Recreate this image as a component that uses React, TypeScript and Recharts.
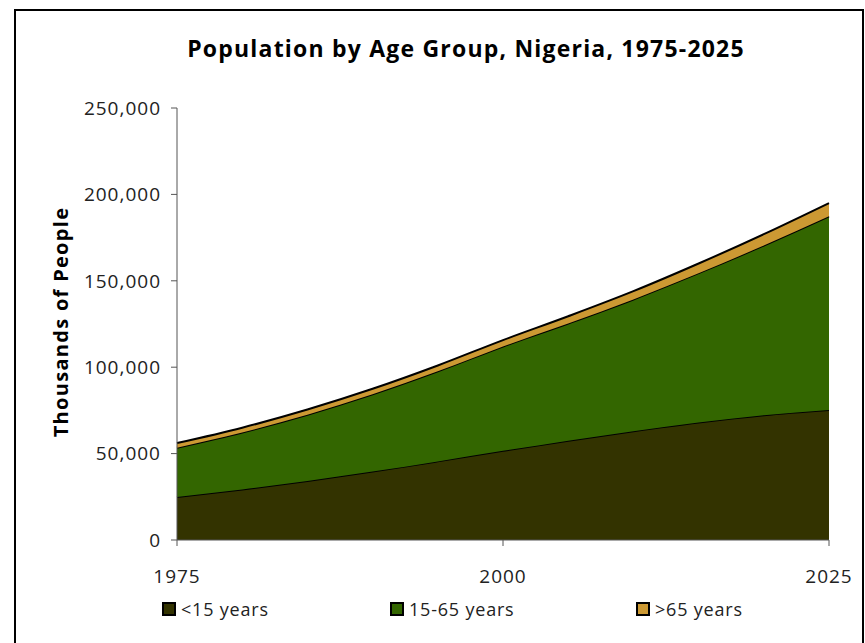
import { AreaChart, Area, XAxis, YAxis } from "recharts";

const years = [1975, 1980, 1985, 1990, 1995, 2000, 2005, 2010, 2015, 2020, 2025];
const under15 = [24900, 29200, 34100, 39600, 45500, 51600, 57500, 63000, 68000, 72200, 75200];
const working = [28500, 33000, 38400, 44700, 52100, 60400, 67800, 76200, 86400, 98200, 112100];
const over65 = [2700, 2800, 3000, 3200, 3400, 3700, 4200, 4800, 5600, 6600, 7700];

const seriesNames = ["<15 years", "15-65 years", ">65 years"];
const seriesColors = ["#333300", "#336600", "#CC9933"];
const yTicks = [0, 50000, 100000, 150000, 200000, 250000];
const xTicks = [1975, 2000, 2025];

const FONT = "'Open Sans', 'Noto Sans', sans-serif";

const data = years.map((y, i) => ({
	year: y,
	a: under15[i],
	b: working[i],
	c: over65[i],
}));

const keys = ["a", "b", "c"];
const legendLeft = [162, 390, 636];

export default function App() {
	const tickStyle = { fill: "#222", fontSize: 19, fontFamily: FONT, letterSpacing: 1 };
	return (
		<div
			style={{
				position: "fixed",
				left: 0,
				top: 0,
				width: 865,
				height: 643,
				overflow: "hidden",
				background: "#fff",
				fontFamily: FONT,
			}}>
			<div
				style={{
					position: "absolute",
					left: 14,
					top: 9,
					width: 846,
					height: 700,
					border: "2px solid #000",
				}}
			/>
			<div
				style={{
					position: "absolute",
					left: 0,
					top: 32,
					width: 932,
					textAlign: "center",
					fontWeight: 700,
					fontSize: 23,
					letterSpacing: 1.2,
					color: "#000",
				}}>
				Population by Age Group, Nigeria, 1975-2025
			</div>
			<div
				style={{
					position: "absolute",
					left: 60,
					top: 322,
					transform: "translate(-50%, -50%) rotate(-90deg)",
					whiteSpace: "nowrap",
					fontWeight: 700,
					fontSize: 20,
					letterSpacing: 1.3,
					color: "#000",
				}}>
				Thousands of People
			</div>
			<div style={{ position: "absolute", left: 0, top: 0 }}>
				<AreaChart
					width={865}
					height={643}
					data={data}
					margin={{ top: 108, right: 36, left: 77, bottom: 63 }}>
					<XAxis
						dataKey="year"
						type="number"
						domain={[1975, 2025]}
						ticks={xTicks}
						tickSize={6}
						height={40}
						stroke="#555"
						tick={tickStyle}
						tickMargin={24}
					/>
					<YAxis
						domain={[0, 250000]}
						ticks={yTicks}
						width={100}
						tickSize={6}
						stroke="#555"
						tickFormatter={(v) => v.toLocaleString("en-US")}
						tick={tickStyle}
						tickMargin={10}
					/>
					{keys.map((k, i) => (
						<Area
							key={k}
							type="monotone"
							dataKey={k}
							stackId="1"
							name={seriesNames[i]}
							fill={seriesColors[i]}
							fillOpacity={1}
							stroke="#000"
							strokeWidth={2}
							isAnimationActive={false}
						/>
					))}
				</AreaChart>
			</div>
			{seriesNames.map((n, i) => (
				<div
					key={n}
					style={{
						position: "absolute",
						left: legendLeft[i],
						top: 597,
						display: "flex",
						alignItems: "center",
						fontSize: 18,
						letterSpacing: 0.8,
						color: "#222",
					}}>
					<span
						style={{
							display: "inline-block",
							width: 10,
							height: 10,
							background: seriesColors[i],
							border: "2px solid #000",
							marginRight: 5,
						}}
					/>
					{n}
				</div>
			))}
		</div>
	);
}
